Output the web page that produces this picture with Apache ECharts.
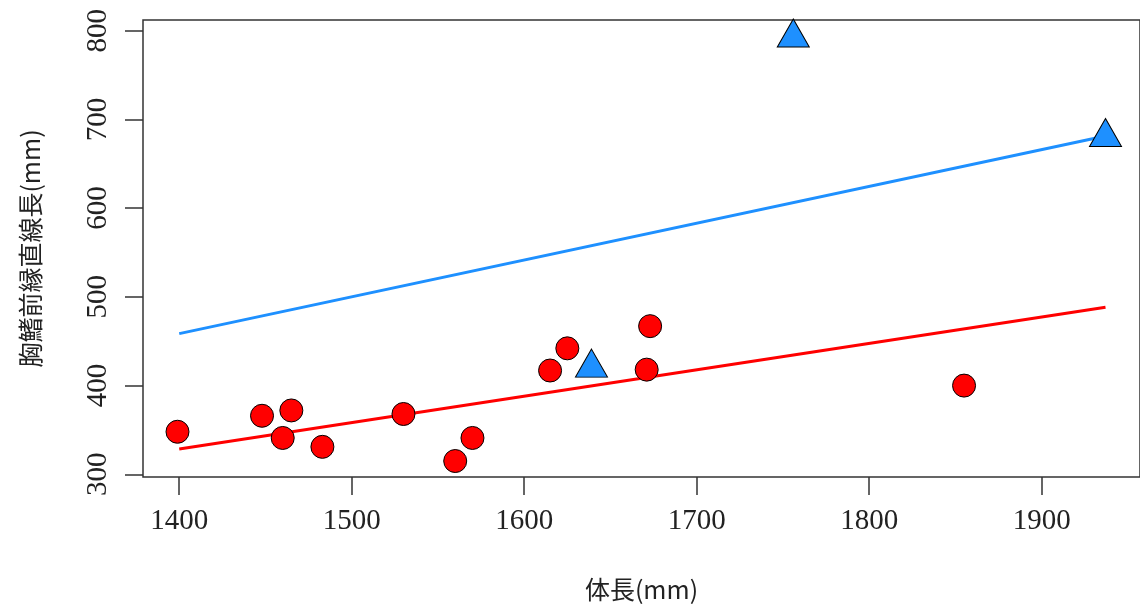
<!DOCTYPE html>
<html>
<head>
<meta charset="utf-8">
<script src="https://cdn.jsdelivr.net/npm/echarts@6/dist/echarts.min.js"></script>
<style>
  html, body { margin: 0; padding: 0; background: #ffffff; }
  #chart { width: 1140px; height: 612px; }
</style>
</head>
<body>
<div id="chart"></div>
<script>
// Body length (mm) vs. pectoral fin leading-edge straight length (mm)
const groupAX = [1399, 1448, 1465, 1460, 1483, 1530, 1560, 1570, 1615, 1625, 1673, 1671, 1855];
const groupAY = [348, 366, 372, 341, 331, 368, 315, 341, 417, 442, 467, 418, 400];
const groupBX = [1639, 1756, 1937];
const groupBY = [420, 792, 680];

// Fitted lines for each group (endpoints)
const fitX = [1400, 1937];
const fitA = [328.5, 488.2];
const fitB = [458.6, 681.2];

// Tick labels
const xTicks = [1400, 1500, 1600, 1700, 1800, 1900];
const yTicks = [300, 400, 500, 600, 700, 800];

const xName = '体長(mm)';
const yName = '胸鰭前縁直線長(mm)';

const pairs = (xs, ys) => xs.map((x, i) => [x, ys[i]]);

const axisColor = '#333333';
const tickFont = '"Liberation Serif", serif';
const cjkFont = '"Noto Sans CJK JP", "Noto Sans", sans-serif';

const chart = echarts.init(document.getElementById('chart'), null, { renderer: 'canvas' });
chart.setOption({
  animation: false,
  backgroundColor: '#ffffff',
  grid: {
    left: 143, top: 20, right: -6, bottom: 135,
    show: true, borderColor: axisColor, borderWidth: 1.5, backgroundColor: 'transparent'
  },
  xAxis: {
    type: 'value', min: 1379, max: 1957,
    splitLine: { show: false },
    axisLine: { show: false },
    axisTick: { show: true, length: 18, lineStyle: { color: axisColor, width: 1.5 }, customValues: xTicks },
    axisLabel: {
      customValues: xTicks, margin: 30, fontSize: 29, fontFamily: tickFont, color: '#222222',
      formatter: v => String(v)
    },
    name: xName, nameLocation: 'middle', nameGap: 100,
    nameTextStyle: { fontSize: 25, fontFamily: cjkFont, color: '#222222' }
  },
  yAxis: {
    type: 'value', min: 297, max: 812,
    splitLine: { show: false },
    axisLine: { show: false },
    axisTick: { show: true, length: 18, lineStyle: { color: axisColor, width: 1.5 }, customValues: yTicks },
    axisLabel: {
      customValues: yTicks, rotate: 90, margin: 30, fontSize: 29, fontFamily: tickFont, color: '#222222',
      formatter: v => String(v)
    },
    name: yName, nameLocation: 'middle', nameGap: 100, nameRotate: 90,
    nameTextStyle: { fontSize: 25, fontFamily: cjkFont, color: '#222222' }
  },
  series: [
    {
      type: 'line', data: pairs(fitX, fitA), showSymbol: false, symbol: 'none',
      lineStyle: { color: '#ff0000', width: 3 }, z: 2, silent: true
    },
    {
      type: 'line', data: pairs(fitX, fitB), showSymbol: false, symbol: 'none',
      lineStyle: { color: '#1e90ff', width: 3 }, z: 2, silent: true
    },
    {
      type: 'scatter', data: pairs(groupAX, groupAY), symbol: 'circle', symbolSize: 23,
      itemStyle: { color: '#ff0000', borderColor: '#000000', borderWidth: 1, opacity: 1 }, z: 3, clip: true
    },
    {
      type: 'scatter', data: pairs(groupBX, groupBY), symbol: 'triangle', symbolSize: [32, 28],
      symbolOffset: [0, -4.7],
      itemStyle: { color: '#1e90ff', borderColor: '#000000', borderWidth: 1, opacity: 1 }, z: 3, clip: true
    }
  ]
});
</script>
</body>
</html>
